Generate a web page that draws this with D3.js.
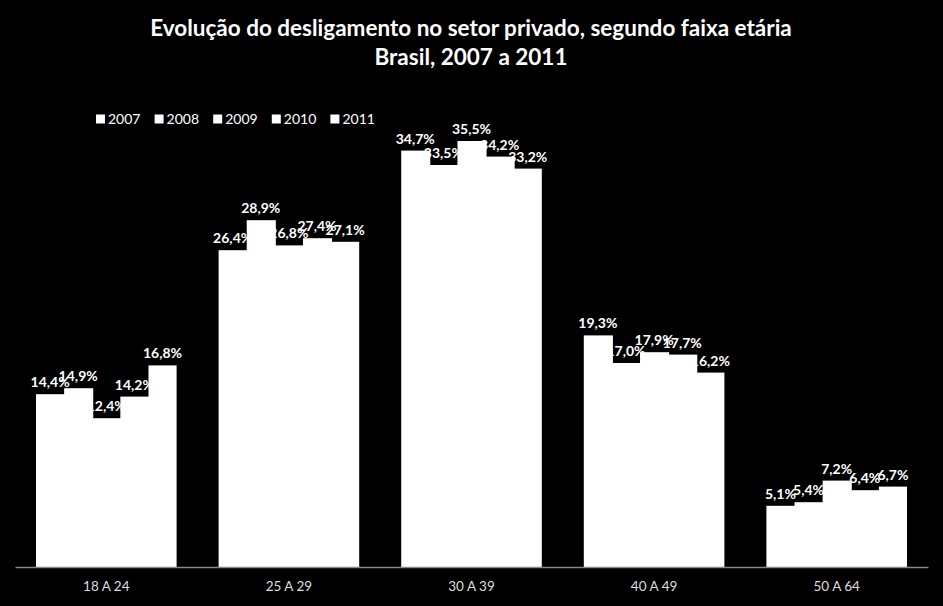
<!DOCTYPE html>
<html><head><meta charset="utf-8">
<script src="https://cdn.jsdelivr.net/npm/d3@7"></script>
<style>
html,body{margin:0;padding:0;background:#000;}
svg{display:block;}
</style></head>
<body>
<script>
const categories = ["18 A 24","25 A 29","30 A 39","40 A 49","50 A 64"];
const years = ["2007","2008","2009","2010","2011"];
const s2007 = [14.4, 26.4, 34.7, 19.3, 5.1];
const s2008 = [14.9, 28.9, 33.5, 17.0, 5.4];
const s2009 = [12.4, 26.8, 35.5, 17.9, 7.2];
const s2010 = [14.2, 27.4, 34.2, 17.7, 6.4];
const s2011 = [16.8, 27.1, 33.2, 16.2, 6.7];
const seriesValues = [s2007, s2008, s2009, s2010, s2011];
const titleLines = ["Evolução do desligamento no setor privado, segundo faixa etária", "Brasil, 2007 a 2011"];

const W = 943, H = 606;
const svg = d3.select("body").append("svg").attr("width", W).attr("height", H)
  .style("background", "#000");
const font = "Lato, 'Open Sans', sans-serif";

const x0 = d3.scaleBand().domain(categories).range([15, 928]).paddingInner(0.23).paddingOuter(0.115);
const x1 = d3.scaleBand().domain(years).range([0, x0.bandwidth()]);
const y = d3.scaleLinear().domain([0, 40]).range([567, 87]);

// title
svg.append("g").selectAll("text").data(titleLines).join("text")
  .attr("x", 471).attr("y", (d, i) => 36 + i * 29)
  .attr("text-anchor", "middle").attr("fill", "#fff")
  .attr("font-family", font).attr("font-weight", "bold").attr("font-size", 22.5)
  .text(d => d);

// legend
const lg = svg.append("g").attr("transform", "translate(96,119)");
const li = lg.selectAll("g").data(years).join("g")
  .attr("transform", (d, i) => `translate(${i * 58.6},0)`);
li.append("rect").attr("x", 0).attr("y", -4.5).attr("width", 9).attr("height", 9).attr("fill", "#fff");
li.append("text").attr("x", 12).attr("y", 5).attr("fill", "#fff")
  .attr("font-family", font).attr("font-size", 14).text(d => d);

// groups
const groups = svg.append("g").selectAll("g").data(categories).join("g")
  .attr("transform", d => `translate(${x0(d)},0)`);

const cells = (ci) => years.map((yr, si) => ({yr, v: seriesValues[si][ci]}));

groups.each(function(cat, ci) {
  const g = d3.select(this);
  const data = cells(ci);
  g.selectAll("text.lbl").data(data).join("text").attr("class", "lbl")
    .attr("x", d => x1(d.yr) + x1.bandwidth() / 2)
    .attr("y", d => y(d.v) - 7)
    .attr("text-anchor", "middle").attr("fill", "#fff")
    .attr("font-family", font).attr("font-weight", "bold").attr("font-size", 14)
    .text(d => d.v.toFixed(1).replace(".", ",") + "%");
  g.selectAll("rect").data(data).join("rect")
    .attr("x", d => x1(d.yr)).attr("width", (d, i) => x1.bandwidth() + (i < years.length - 1 ? 1 : 0))
    .attr("y", d => y(d.v)).attr("height", d => y(0) - y(d.v))
    .attr("fill", "#fff").attr("stroke", "none");
});

// axis
const ax = svg.append("g").attr("transform", "translate(0,567)")
  .call(d3.axisBottom(x0).tickSize(0).tickPadding(14).tickSizeOuter(0));
ax.select(".domain").attr("stroke", "#888").attr("stroke-width", 1.5);
ax.selectAll("text").attr("fill", "#ddd").attr("font-family", font).attr("font-size", 13.5);
</script>
</body></html>
